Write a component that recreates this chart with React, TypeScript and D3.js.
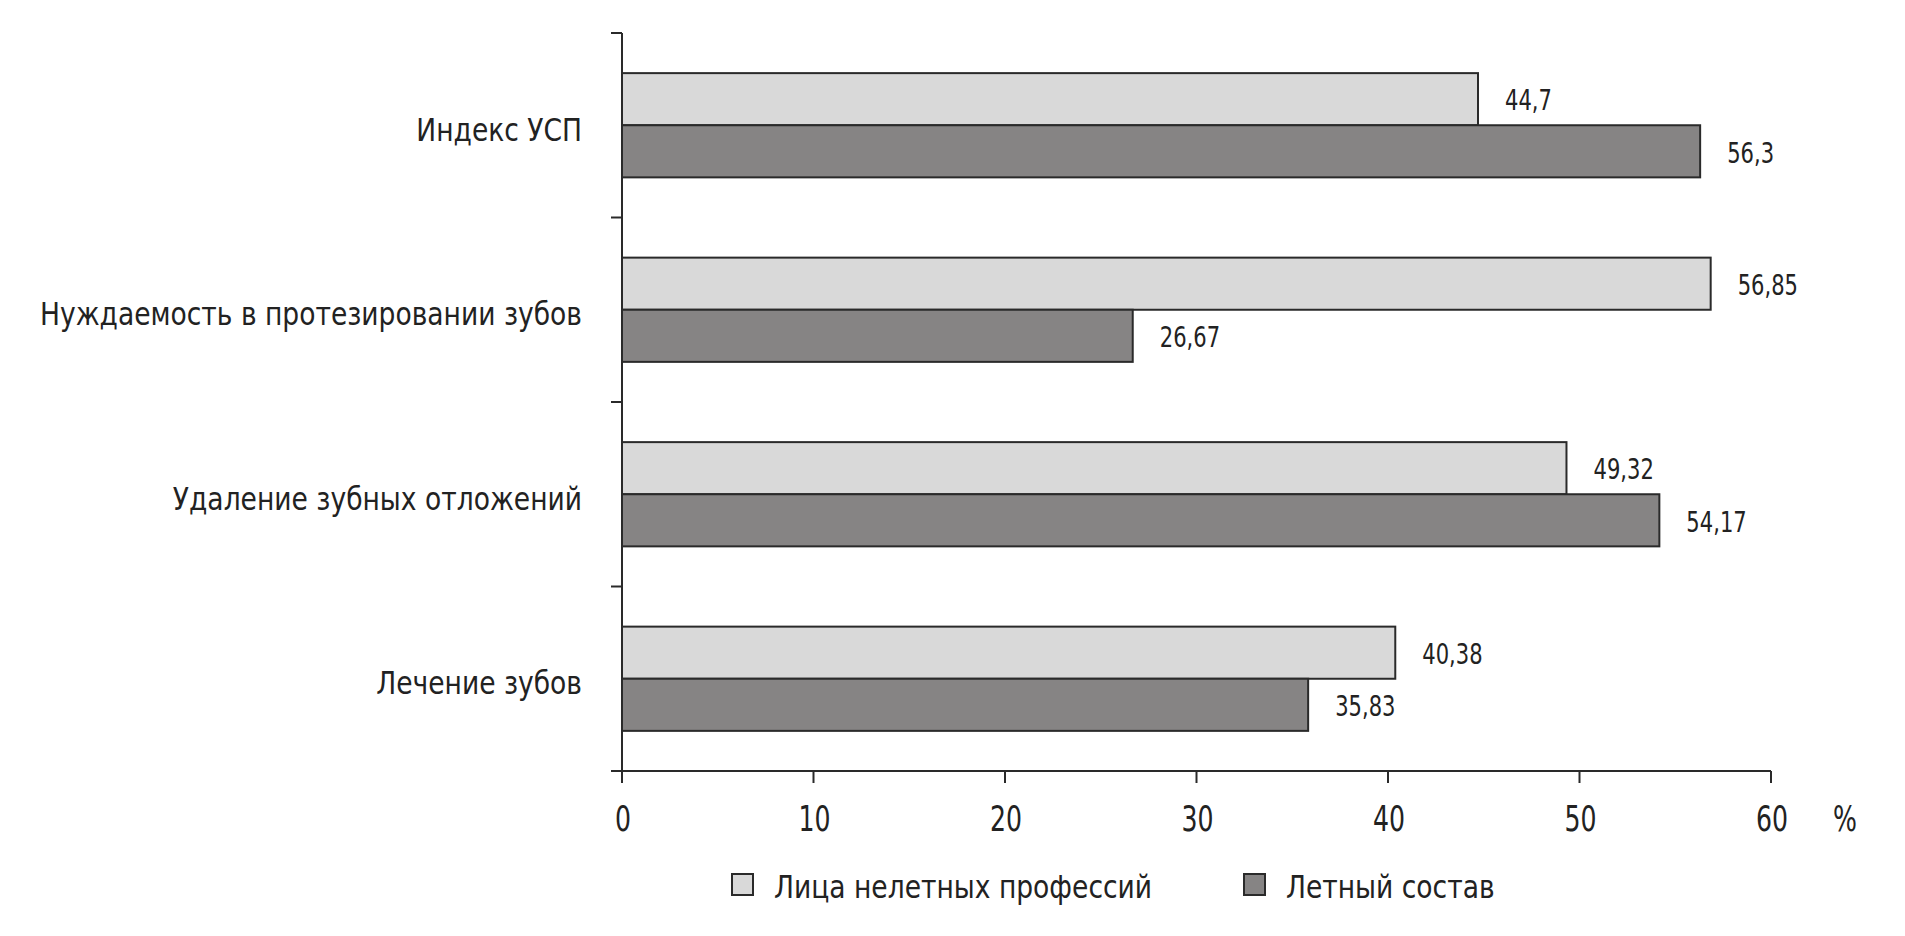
import React from "react";
import * as d3 from "d3";

const categories = [
  "Индекс УСП",
  "Нуждаемость в протезировании зубов",
  "Удаление зубных отложений",
  "Лечение зубов",
];
const seriesNames = ["Лица нелетных профессий", "Летный состав"];
const nonFlying = [44.7, 56.85, 49.32, 40.38];
const flying = [56.3, 26.67, 54.17, 35.83];
const valueLabelsNonFlying = ["44,7", "56,85", "49,32", "40,38"];
const valueLabelsFlying = ["56,3", "26,67", "54,17", "35,83"];
const xTicks = [0, 10, 20, 30, 40, 50, 60];
const colors = ["#d9d9d9", "#868484"];

const W = 1905;
const H = 936;
const FONT = "'DejaVu Sans', sans-serif";

export default function App() {
  const left = 622;
  const right = 1771;
  const top = 33;
  const bottom = 771;
  const x = d3.scaleLinear().domain([0, 60]).range([left, right]);
  const y = d3.scaleBand<string>().domain(categories).range([top, bottom]).paddingInner(0).paddingOuter(0);
  const inner = d3.scaleBand<number>().domain([0, 1]).range([0, y.bandwidth()]).paddingOuter(0.77).paddingInner(0);
  const series = [nonFlying, flying];
  const labels = [valueLabelsNonFlying, valueLabelsFlying];
  const yTicks = d3.range(categories.length + 1).map((i) => top + i * y.bandwidth());
  const stroke = "#2a2a2a";

  return (
    <svg width={W} height={H} style={{ display: "block", position: "absolute", left: 0, top: 0 }}>
      <rect width={W} height={H} fill="#fff" />
      {categories.map((c, ci) => (
        <g key={c}>
          {series.map((s, si) => {
            const y0 = (y(c) as number) + (inner(si) as number);
            return (
              <g key={si}>
                <rect
                  x={x(0)}
                  y={y0}
                  width={x(s[ci]) - x(0)}
                  height={inner.bandwidth()}
                  fill={colors[si]}
                  stroke={stroke}
                  strokeWidth={2}
                />
                <text
                  transform={`translate(${x(s[ci]) + 27},${y0 + inner.bandwidth() / 2 + 1}) scale(0.74,1)`}
                  dy="0.36em"
                  fontFamily={FONT}
                  fontSize={28.5}
                  fill="#222"
                >
                  {labels[si][ci]}
                </text>
              </g>
            );
          })}
          <text
            transform={`translate(582,${(y(c) as number) + y.bandwidth() / 2 + 4}) scale(0.83,1)`}
            dy="0.36em"
            textAnchor="end"
            fontFamily={FONT}
            fontSize={32}
            fill="#222"
          >
            {c}
          </text>
        </g>
      ))}
      {/* y axis */}
      <line x1={left} x2={left} y1={top} y2={bottom} stroke={stroke} strokeWidth={2} />
      {yTicks.map((t, i) => (
        <line key={i} x1={left - 11} x2={left} y1={t} y2={t} stroke={stroke} strokeWidth={2} />
      ))}
      {/* x axis */}
      <line x1={left} x2={right} y1={bottom} y2={bottom} stroke={stroke} strokeWidth={2} />
      {xTicks.map((t) => (
        <g key={t}>
          <line x1={x(t)} x2={x(t)} y1={bottom} y2={bottom + 12} stroke={stroke} strokeWidth={2} />
          <text
            transform={`translate(${x(t) + 1},818) scale(0.7,1)`}
            dy="0.36em"
            textAnchor="middle"
            fontFamily={FONT}
            fontSize={36}
            fill="#222"
          >
            {t}
          </text>
        </g>
      ))}
      <text
        transform="translate(1845,818) scale(0.7,1)"
        dy="0.36em"
        textAnchor="middle"
        fontFamily={FONT}
        fontSize={36}
        fill="#222"
      >
        %
      </text>
      {/* legend */}
      {seriesNames.map((n, i) => {
        const lx = [732, 1244][i];
        return (
          <g key={n}>
            <rect x={lx} y={874} width={21} height={21} fill={colors[i]} stroke={stroke} strokeWidth={2} />
            <text
              transform={`translate(${lx + 42},886) scale(0.83,1)`}
              dy="0.36em"
              fontFamily={FONT}
              fontSize={32}
              fill="#222"
            >
              {n}
            </text>
          </g>
        );
      })}
    </svg>
  );
}
